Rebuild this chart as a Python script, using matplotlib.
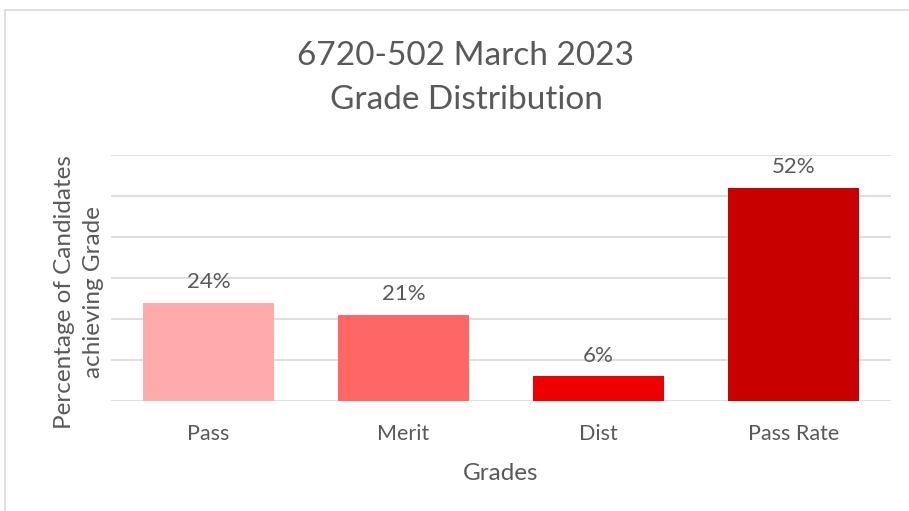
import matplotlib.pyplot as plt
from matplotlib.patches import Rectangle

# Data
grades = ["Pass", "Merit", "Dist", "Pass Rate"]
percent = [24, 21, 6, 52]
bar_colors = ["#FFABAB", "#FF6666", "#EE0000", "#C80000"]

text_col = "#595959"
plt.rcParams['font.family'] = ['Lato', 'DejaVu Sans']

fig = plt.figure(figsize=(9.09, 5.11), dpi=100)
W, H = 909, 511
ax = fig.add_axes([111 / W, (H - 401) / H, (891 - 111) / W, (401 - 155) / H])

# light frame round the chart
fig.patches.append(Rectangle((5 / W, -0.1), 1.2, (H - 10) / H + 0.1,
                             transform=fig.transFigure, fill=False,
                             edgecolor="#D9D9D9", linewidth=1.2))

x = range(len(grades))
ax.bar(x, percent, width=0.67, color=bar_colors, zorder=3)
for i, v in enumerate(percent):
    ax.text(i, v + 2.6, f"{v}%", ha="center", va="bottom", fontsize=16, color=text_col)

ax.set_xlim(-0.5, 3.5)
ax.set_ylim(0, 60)
ax.set_yticks(range(0, 61, 10))
ax.yaxis.grid(True, color="#D9D9D9", linewidth=1.2, zorder=0)
ax.tick_params(axis="y", left=False, labelleft=False)
ax.tick_params(axis="x", bottom=False, labelsize=15.5, labelcolor=text_col, pad=13)
ax.set_xticks(list(x))
ax.set_xticklabels(grades)
for s in ax.spines.values():
    s.set_visible(False)

ax.set_xlabel("Grades", fontsize=17.5, color=text_col, labelpad=14)
fig.text(79 / W, 1 - 292 / H, "Percentage of Candidates\nachieving Grade", rotation=90,
         ha="center", va="center", fontsize=17.5, color=text_col, linespacing=1.45)
fig.text(466 / W, 1 - 78 / H, "6720-502 March 2023\nGrade Distribution", ha="center",
         va="center", fontsize=24, color=text_col, linespacing=1.6)

fig.savefig("out.png", dpi=100)
